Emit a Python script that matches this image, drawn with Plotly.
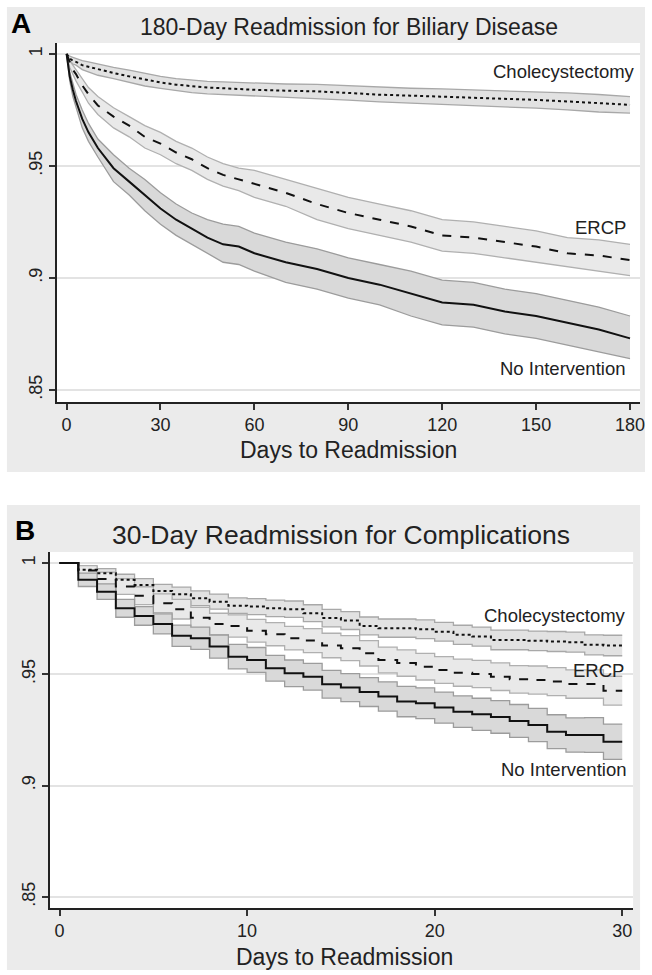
import plotly.graph_objects as go

# ---------------- Panel A data (180-day readmission, biliary disease) ----------------
days_a = [0, 1, 2, 3, 5, 7, 10, 15, 20, 25, 30, 35, 40, 45, 50, 55, 60, 70, 80, 90,
          100, 110, 120, 130, 140, 150, 160, 170, 180]

ni_a = [1.0, .990, .984, .979, .971, .965, .958, .949, .943, .937, .931, .926, .922, .918, .915,
        .914, .911, .907, .904, .900, .897, .893, .889, .888, .885, .883, .880, .877, .873]
ni_a_hi = [1.0, .992, .987, .982, .975, .969, .962, .955, .949, .944, .938, .933, .929, .926, .924,
           .923, .920, .916, .913, .909, .906, .903, .899, .898, .895, .893, .890, .887, .883]
ni_a_lo = [1.0, .988, .981, .976, .967, .961, .954, .943, .937, .930, .924, .919, .915, .911, .907,
           .906, .903, .898, .895, .891, .888, .883, .879, .878, .875, .873, .870, .867, .864]

ercp_a = [1.0, .996, .993, .991, .986, .982, .977, .972, .968, .963, .960, .956, .953, .949, .946,
          .944, .942, .938, .933, .929, .926, .923, .919, .918, .916, .914, .911, .910, .908]
ercp_a_hi = [1.0, .997, .995, .993, .989, .985, .981, .976, .972, .968, .965, .961, .958, .954, .951,
             .949, .948, .944, .940, .936, .933, .930, .926, .925, .923, .921, .918, .917, .915]
ercp_a_lo = [1.0, .994, .991, .988, .983, .978, .973, .967, .963, .958, .955, .951, .948, .944, .941,
             .939, .936, .932, .926, .922, .919, .916, .912, .911, .909, .907, .905, .903, .901]

chole_a = [1.0, .998, .997, .9965, .995, .9943, .993, .9915, .990, .9885, .9873, .9863, .9855, .985,
           .9847, .9843, .984, .9836, .9833, .9826, .9818, .9814, .981, .9805, .980, .9795, .9788,
           .978, .9773]
chole_a_hi = [1.0, .999, .9985, .998, .997, .9965, .9955, .994, .9928, .9913, .990, .989, .9883,
              .9878, .9875, .9872, .9869, .9866, .9864, .9858, .985, .9847, .9844, .984, .9836,
              .9832, .9826, .9819, .981]
chole_a_lo = [1.0, .997, .9955, .995, .993, .992, .9905, .989, .9872, .9857, .9846, .9836, .9827,
              .9822, .9819, .9814, .9811, .9806, .9802, .9794, .9786, .9781, .9776, .977, .9764,
              .9758, .975, .9741, .9736]

# ---------------- Panel B data (30-day readmission, complications) ----------------
days_b = list(range(0, 31))

ni_b = [1.0, .9924, .9871, .9796, .9762, .9726, .9673, .9662, .9624, .9579, .9564, .9527, .9504,
        .9489, .9455, .944, .942, .940, .9377, .937, .935, .9332, .932, .9308, .929, .9272, .9242,
        .9227, .9227, .9197, .9197]
ni_b_hi = [1.0, .9954, .9906, .9836, .9804, .9771, .9721, .9712, .9676, .9634, .962, .9585, .9564,
           .9549, .9517, .9503, .9485, .9466, .9445, .9439, .942, .9403, .9392, .9381, .9364,
           .9347, .9318, .9304, .9305, .9276, .9276]
ni_b_lo = [1.0, .9894, .9836, .9756, .972, .9681, .9625, .9612, .9572, .9524, .9508, .9469, .9444,
           .9429, .9393, .9377, .9355, .9334, .9309, .9301, .928, .9261, .9248, .9235, .9216,
           .9197, .9166, .915, .9149, .9118, .9118]

ercp_b = [1.0, .9966, .9928, .9894, .9853, .9819, .9792, .9754, .9726, .9717, .9695, .968, .9662,
          .9651, .9629, .9617, .9594, .9564, .955, .9534, .9519, .9507, .9501, .9489, .9477, .9474,
          .9467, .9456, .9456, .9426, .9426]
ercp_b_hi = [1.0, .9988, .9958, .9929, .9893, .9861, .9836, .98, .9774, .9767, .9746, .9732, .9715,
             .9705, .9684, .9673, .9651, .9622, .9609, .9594, .9579, .9568, .9562, .9551, .9539,
             .9537, .953, .952, .952, .9491, .9491]
ercp_b_lo = [1.0, .9944, .9898, .9859, .9813, .9777, .9748, .9708, .9678, .9667, .9644, .9628,
             .9609, .9597, .9574, .9561, .9537, .9506, .9491, .9474, .9459, .9446, .944, .9427,
             .9415, .9411, .9404, .9392, .9392, .9361, .9361]

chole_b = [1.0, .9969, .9954, .9924, .9901, .9874, .9859, .9841, .9826, .9808, .9804, .9796, .9792,
           .9774, .9752, .9741, .9717, .9707, .9707, .9702, .9691, .9677, .9669, .9654, .9654,
           .965, .9647, .9644, .9632, .9629, .9629]
chole_b_hi = [1.0, .9984, .9974, .9949, .9929, .9904, .9891, .9874, .986, .9843, .984, .9833,
              .9829, .9812, .9791, .9781, .9757, .9748, .9748, .9744, .9733, .972, .9712, .9698,
              .9698, .9694, .9692, .9689, .9677, .9675, .9675]
chole_b_lo = [1.0, .9954, .9934, .9899, .9873, .9844, .9827, .9808, .9792, .9773, .9768, .9759,
              .9755, .9736, .9713, .9701, .9677, .9666, .9666, .966, .9649, .9634, .9626, .961,
              .961, .9606, .9602, .9599, .9587, .9583, .9583]

y_tickvals = [0.85, 0.9, 0.95, 1.0]
y_ticktext = [".85", ".9", ".95", "1"]
x_ticks_a = [0, 30, 60, 90, 120, 150, 180]
x_ticks_b = [0, 10, 20, 30]
group_names = ["Cholecystectomy", "ERCP", "No Intervention"]

W, H = 652, 975
FONT = "Arial, Liberation Sans, sans-serif"


def px(x):
    return x / W


def py(y):
    return 1 - y / H


fig = go.Figure()


def add_band(xs, lo, hi, xa, ya, shape, fill, edge):
    fig.add_trace(go.Scatter(x=xs, y=lo, mode="lines", line=dict(color=edge, width=1.3, shape=shape),
                             xaxis=xa, yaxis=ya, showlegend=False, hoverinfo="skip"))
    fig.add_trace(go.Scatter(x=xs, y=hi, mode="lines", line=dict(color=edge, width=1.3, shape=shape),
                             fill="tonexty", fillcolor=fill,
                             xaxis=xa, yaxis=ya, showlegend=False, hoverinfo="skip"))


def add_line(xs, ys, xa, ya, shape, dash, name):
    fig.add_trace(go.Scatter(x=xs, y=ys, mode="lines", name=name,
                             line=dict(color="#111111", width=2, shape=shape, dash=dash),
                             xaxis=xa, yaxis=ya, showlegend=False))


# Panel A
add_band(days_a, chole_a_lo, chole_a_hi, "x", "y", "linear", "#e2e2e2", "#a8a8a8")
add_band(days_a, ercp_a_lo, ercp_a_hi, "x", "y", "linear", "#e9e9e9", "#b0b0b0")
add_band(days_a, ni_a_lo, ni_a_hi, "x", "y", "linear", "#d9d9d9", "#9c9c9c")
add_line(days_a, chole_a, "x", "y", "linear", "dot", group_names[0])
add_line(days_a, ercp_a, "x", "y", "linear", "dash", group_names[1])
add_line(days_a, ni_a, "x", "y", "linear", "solid", group_names[2])

# Panel B
add_band(days_b, chole_b_lo, chole_b_hi, "x2", "y2", "hv", "#e2e2e2", "#a8a8a8")
add_band(days_b, ercp_b_lo, ercp_b_hi, "x2", "y2", "hv", "#e9e9e9", "#b0b0b0")
add_band(days_b, ni_b_lo, ni_b_hi, "x2", "y2", "hv", "#d9d9d9", "#9c9c9c")
add_line(days_b, chole_b, "x2", "y2", "hv", "dot", group_names[0])
add_line(days_b, ercp_b, "x2", "y2", "hv", "dash", group_names[1])
add_line(days_b, ni_b, "x2", "y2", "hv", "solid", group_names[2])

axis_common = dict(showline=True, linecolor="#222222", linewidth=1.5, ticks="outside", ticklen=6,
                   tickwidth=1.5, tickcolor="#333333", zeroline=False,
                   tickfont=dict(family=FONT, size=18, color="#222222"))

fig.update_layout(
    width=W, height=H, margin=dict(l=0, r=0, t=0, b=0),
    paper_bgcolor="white", plot_bgcolor="white",
    xaxis=dict(domain=[px(57), px(645)], range=[-3.2, 183.2], tickvals=x_ticks_a,
               showgrid=False, anchor="y", **axis_common),
    yaxis=dict(domain=[py(402), py(43)], range=[0.8446, 1.0049], tickvals=y_tickvals,
               ticktext=y_ticktext, tickangle=-90, showgrid=True, gridcolor="#e3e3e3",
               gridwidth=1.5, anchor="x", **axis_common),
    xaxis2=dict(domain=[px(50), px(638)], range=[-0.53, 30.58], tickvals=x_ticks_b,
                showgrid=False, anchor="y2", **axis_common),
    yaxis2=dict(domain=[py(908), py(552)], range=[0.845, 1.0049], tickvals=y_tickvals,
                ticktext=y_ticktext, tickangle=-90, showgrid=True, gridcolor="#e3e3e3",
                gridwidth=1.5, anchor="x2", **axis_common),
    shapes=[
        dict(type="rect", xref="paper", yref="paper", x0=px(7), x1=px(650), y0=py(472), y1=py(7),
             fillcolor="#ebebeb", line=dict(width=0), layer="below"),
        dict(type="rect", xref="paper", yref="paper", x0=px(7), x1=px(645), y0=py(970), y1=py(505),
             fillcolor="#ebebeb", line=dict(width=0), layer="below"),
        dict(type="rect", xref="paper", yref="paper", x0=px(57), x1=px(645), y0=py(402), y1=py(43),
             fillcolor="white", line=dict(width=0), layer="below"),
        dict(type="rect", xref="paper", yref="paper", x0=px(50), x1=px(638), y0=py(908), y1=py(552),
             fillcolor="white", line=dict(width=0), layer="below"),
    ],
)

ann = []
# Panel letters and titles
ann.append(dict(text="<b>A</b>", x=px(21), y=py(23), xref="paper", yref="paper", showarrow=False,
                font=dict(family=FONT, size=28, color="#000000"), xanchor="center", yanchor="middle"))
ann.append(dict(text="180-Day Readmission for Biliary Disease", x=px(352), y=py(27), xref="paper",
                yref="paper", showarrow=False, font=dict(family=FONT, size=23, color="#222222"),
                xanchor="center", yanchor="middle"))
ann.append(dict(text="<b>B</b>", x=px(25), y=py(530), xref="paper", yref="paper", showarrow=False,
                font=dict(family=FONT, size=28, color="#000000"), xanchor="center", yanchor="middle"))
ann.append(dict(text="30-Day Readmission for Complications", x=px(344), y=py(535), xref="paper",
                yref="paper", showarrow=False, font=dict(family=FONT, size=26.5, color="#222222"),
                xanchor="center", yanchor="middle"))
# Axis titles
ann.append(dict(text="Days to Readmission", x=px(351), y=py(450), xref="paper", yref="paper",
                showarrow=False, font=dict(family=FONT, size=23, color="#222222"),
                xanchor="center", yanchor="middle"))
ann.append(dict(text="Days to Readmission", x=px(347), y=py(957), xref="paper", yref="paper",
                showarrow=False, font=dict(family=FONT, size=23, color="#222222"),
                xanchor="center", yanchor="middle"))
# Group labels panel A
for name, xv, yv in zip(group_names, [182.1, 179.3, 179.0], [0.992, 0.9227, 0.8596]):
    ann.append(dict(text=name, x=xv, y=yv, xref="x", yref="y", showarrow=False, xanchor="right",
                    yanchor="middle", font=dict(family=FONT, size=18.5, color="#222222")))
# Group labels panel B
for name, xv, yv in zip(group_names, [30.3, 30.2, 30.3], [0.9766, 0.9515, 0.907]):
    ann.append(dict(text=name, x=xv, y=yv, xref="x2", yref="y2", showarrow=False, xanchor="right",
                    yanchor="middle", font=dict(family=FONT, size=18.5, color="#222222")))

fig.update_layout(annotations=ann)

fig.write_html("out.html",
               config={"displayModeBar": False},
               post_script="document.body.style.margin='0';document.body.style.padding='0';"
                           "document.body.style.overflow='hidden';"
                           "document.documentElement.style.overflow='hidden';")
